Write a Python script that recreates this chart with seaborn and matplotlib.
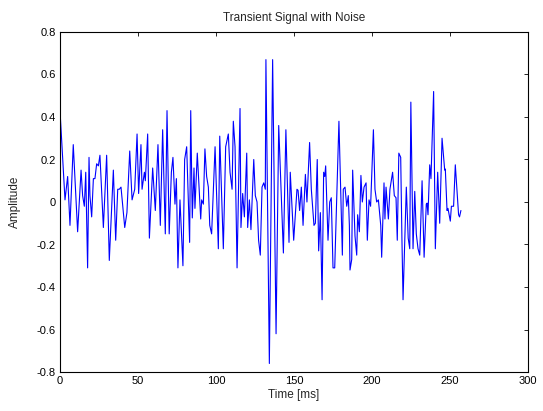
import matplotlib
matplotlib.use("Agg")
import matplotlib.pyplot as plt
import seaborn as sns
import pandas as pd

time_ms = [
    0, 3.2, 4.9, 6.4, 8.5, 11.3, 13.5, 14.5, 15.6, 16.5, 17.7, 18.6, 19.2, 20.3, 21.4, 22.4, 23.5, 24.6, 25.6, 27.8, 29.9, 31.6, 34.2,
    35.7, 37, 38, 39.1, 41.5, 42.9, 44.7, 46.2, 47.9, 49.4, 50.4, 51.9, 52.6, 54.1, 54.7, 56.2, 57.3, 59.4, 61.1, 62.8, 64.3, 65.8, 67.5, 68.6, 70, 71.4,
    72.4, 73.7, 74.6, 75.6, 76.9, 78.8, 79.9, 81.2, 83.1, 83.8, 84.8, 85.9, 86.5, 88, 90.2, 90.8, 91.9, 92.9, 94, 95.1, 96, 97.2, 98.3, 99.4, 101.5, 102.4, 104.7, 106.2, 107.9,
    109, 110.3, 111.1, 112.2, 113.5, 115.4, 116, 117.1, 118.2, 119.7, 120.3, 121.4, 122.4, 124.2, 125.2, 126.3, 127.3, 128.4, 129.5, 130.6, 131.6, 132, 134.2, 136.3, 138.5, 140.2, 143.2, 144.8,
    146.8, 147.6, 149.8, 151.9, 152.6, 153.6, 154.7, 155.8, 157.3, 158.3, 160, 161.1, 162.8, 163.7, 164.9, 165.8, 166.9, 168, 169, 169.7, 170.3, 171.8, 172.9, 173.9, 175, 176.1, 178.8, 181,
    181.6, 182.7, 183.8, 184.8, 185.5, 185.9, 187, 187.6, 189.1, 190.2, 190.8, 191.9, 192.9, 193.8, 194.9, 196.2, 197, 198.1, 199.1, 200.9, 201.9, 203, 204.1, 205.6, 206.2, 207.7, 208.3, 209, 210.5, 211.5, 213.2, 214.3, 215.4, 216.2, 217.2,
    218.4, 219.2, 219.9, 222, 223.2, 224.2, 224.9, 226.3, 227.4, 228.4, 229.5, 230.6, 232.1, 233.4, 234.8, 235.3, 235.9, 237, 237.8, 239.5, 240.6, 242.1, 243.4, 244.9, 246.6, 247, 248.1, 248.7, 250.2, 250.9, 252.3, 253.4, 255.5, 256.1, 257,
]

amplitude = [
    0.43, 0.01, 0.12, -0.11, 0.27, -0.14, 0.15, 0.03, -0.02, 0.14, -0.31, 0.21, 0.03, -0.07, 0.11, 0.11, 0.18, 0.17, 0.22, -0.12, 0.22, -0.275, 0.15,
    -0.18, 0.06, 0.06, 0.07, -0.12, -0.05, 0.24, 0.01, 0.06, 0.32, 0.04, 0.27, 0.06, 0.14, 0.10, 0.32, -0.17, 0.16, -0.04, 0.27, -0.11, 0.34, -0.15, 0.43, -0.15, 0.14,
    0.21, -0.01, 0.11, -0.31, 0.01, -0.30, 0.20, 0.26, -0.19, 0.43, -0.075, 0.16, -0.03, 0.23, -0.08, 0.01, -0.01, 0.25, 0.12, 0.07, -0.11, -0.15, 0.06, 0.26, -0.22, 0.31, -0.22, 0.26, 0.32,
    0.14, 0.06, 0.38, 0.26, -0.31, 0.44, -0.12, 0.04, -0.07, 0.23, -0.12, 0.01, -0.13, 0.20, 0.03, 0.00, -0.18, -0.25, 0.07, 0.09, 0.06, 0.67, -0.76, 0.67, -0.62, 0.36, -0.24, 0.34,
    -0.19, 0.14, -0.18, 0.06, 0.055, -0.04, 0.07, -0.11, 0.13, 0.00, 0.28, 0.06, -0.11, -0.10, 0.20, -0.23, -0.05, -0.46, 0.14, 0.12, 0.17, -0.18, 0.00, 0.02, -0.31, -0.31, 0.38, -0.25,
    0.06, 0.07, -0.02, 0.03, -0.11, -0.32, -0.27, 0.15, -0.16, -0.25, -0.06, -0.14, 0.125, 0.00, 0.07, 0.09, -0.18, 0.01, -0.02, 0.34, 0.06, 0.00, 0.01, -0.11, -0.26, 0.09, -0.08, 0.07, -0.08, 0.06, 0.14, 0.03, 0.02, -0.18, 0.23,
    0.21, -0.18, -0.46, 0.07, -0.17, -0.22, 0.47, -0.22, 0.05, -0.15, -0.22, -0.25, 0.10, -0.26, -0.01, -0.005, -0.06, 0.175, 0.11, 0.52, -0.22, 0.14, -0.10, 0.30, 0.15, 0.155, -0.04, -0.03, -0.09, -0.02, -0.02, 0.175, -0.06, -0.07, -0.04,
]

x_ticks = [0, 50, 100, 150, 200, 250, 300]
y_ticks = [-0.8, -0.6, -0.4, -0.2, 0, 0.2, 0.4, 0.6, 0.8]
y_tick_labels = ["-0.8", "-0.6", "-0.4", "-0.2", "0", "0.2", "0.4", "0.6", "0.8"]

sns.set_style("white")
plt.rcParams["font.family"] = ["Liberation Sans", "DejaVu Sans"]

df = pd.DataFrame({"Time": time_ms, "Amplitude": amplitude})

fig = plt.figure(figsize=(5.43, 4.11), dpi=100, facecolor="white")
ax = fig.add_axes([60 / 543, 1 - 372 / 411, 468 / 543, 340 / 411])
sns.lineplot(data=df, x="Time", y="Amplitude", sort=False, estimator=None,
             color="#0000ff", linewidth=0.8, ax=ax)

ax.set_xlim(0, 300)
ax.set_ylim(-0.8, 0.8)
ax.set_xticks(x_ticks)
ax.set_xticklabels([str(t) for t in x_ticks])
ax.set_yticks(y_ticks)
ax.set_yticklabels(y_tick_labels)
ax.tick_params(direction="in", length=3, width=0.6, top=True, right=True,
               labelsize=8, colors="black", pad=3)
for s in ax.spines.values():
    s.set_visible(True)
    s.set_color("black")
    s.set_linewidth(0.8)

ax.set_title("Transient Signal with Noise", fontsize=8.5, pad=8)
ax.set_xlabel("Time [ms]", fontsize=8.5, labelpad=2)
ax.set_ylabel("Amplitude", fontsize=8.5, labelpad=11)

fig.savefig("out.png", dpi=100, facecolor="white")
